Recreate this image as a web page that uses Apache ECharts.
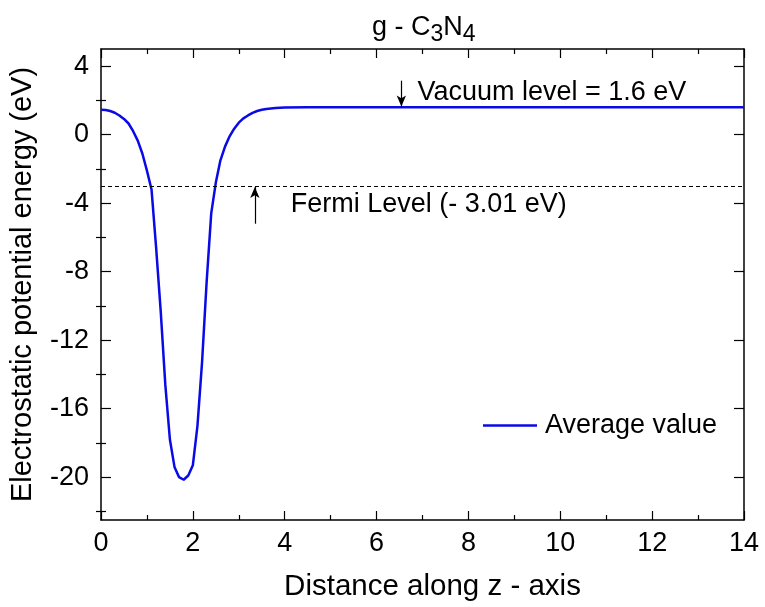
<!DOCTYPE html>
<html>
<head>
<meta charset="utf-8">
<script src="https://cdn.jsdelivr.net/npm/echarts@6/dist/echarts.min.js"></script>
<style>
  html, body { margin: 0; padding: 0; background: #fff; }
  #chart { width: 765px; height: 607px; }
</style>
</head>
<body>
<div id="chart"></div>
<script>
// distance along z (x) and averaged electrostatic potential (eV)
const distance = [0, 0.1, 0.2, 0.3, 0.4, 0.5, 0.6, 0.7, 0.8, 0.9, 1.0, 1.1, 1.2, 1.3, 1.4, 1.5,
  1.6, 1.7, 1.8, 1.9, 2.0, 2.1, 2.2, 2.3, 2.4, 2.5, 2.6, 2.7, 2.8, 2.9, 3.0, 3.1, 3.2, 3.3,
  3.4, 3.5, 3.6, 3.8, 4.0, 4.5, 5, 6, 7, 8, 9, 10, 11, 12, 13, 14];
const potential = [1.46, 1.44, 1.38, 1.28, 1.12, 0.92, 0.65, 0.2, -0.35, -1.1, -2.1, -3.2, -6.6, -10.3, -14.6, -17.8,
  -19.4, -20.0, -20.15, -19.9, -19.3, -17.0, -13.3, -8.6, -4.6, -2.8, -1.5, -0.7, -0.1, 0.35, 0.7, 0.95, 1.12, 1.27,
  1.38, 1.45, 1.5, 1.55, 1.58, 1.6, 1.6, 1.6, 1.6, 1.6, 1.6, 1.6, 1.6, 1.6, 1.6, 1.6];

const vacuumLevel = 1.6;
const fermiLevel = -3.01;

const yMajorTicks = [-20, -16, -12, -8, -4, 0, 4];
const yMinorTicks = [-22, -18, -14, -10, -6, -2, 2];

const font = 'Liberation Sans';
const blue = '#0a0ae6';
const seriesData = distance.map((d, i) => [d, potential[i]]);

const chart = echarts.init(document.getElementById('chart'));

const xBase = {
  type: 'value', min: 0, max: 14, interval: 2,
  axisLine: { onZero: false, lineStyle: { color: '#000', width: 1.5 } },
  axisTick: { inside: true, length: 9, lineStyle: { color: '#000', width: 1.2 } },
  minorTick: { show: true, splitNumber: 2, length: 5, lineStyle: { color: '#000', width: 1.2 } },
  splitLine: { show: false }
};
const yBase = {
  type: 'value', min: -22.5, max: 5,
  axisLine: { show: false },
  splitLine: { show: false },
  axisLabel: { show: false }
};

const option = {
  animation: false,
  backgroundColor: '#fff',
  title: {
    text: '{m|g - C}{s|3}{m|N}{s|4}',
    left: 372, top: 12, padding: 0,
    textStyle: {
      rich: {
        m: { fontFamily: font, fontSize: 27, fontWeight: 'normal', lineHeight: 32, color: '#000' },
        s: { fontFamily: font, fontSize: 23, fontWeight: 'normal', lineHeight: 20, padding: [14, 0, 0, 0], color: '#000' }
      }
    }
  },
  grid: { left: 100, right: 21, top: 49, bottom: 87 },
  legend: {
    left: 483, top: 412, padding: 0,
    icon: 'rect',
    itemWidth: 54, itemHeight: 2.5,
    itemStyle: { color: blue },
    textStyle: { fontFamily: font, fontSize: 27, color: '#000', padding: [0, 0, 0, 3] },
    data: ['Average value']
  },
  xAxis: [
    Object.assign({}, xBase, {
      position: 'bottom',
      name: 'Distance along z - axis',
      nameLocation: 'middle', nameGap: 52,
      nameTextStyle: { fontFamily: font, fontSize: 29.5, color: '#000', padding: [0, 0, 0, 20] },
      axisLabel: { fontFamily: font, fontSize: 27, color: '#000', margin: 10 }
    }),
    Object.assign({}, xBase, { position: 'top', axisLabel: { show: false } })
  ],
  yAxis: [
    Object.assign({}, yBase, {
      position: 'left',
      axisLine: { show: true, onZero: false, lineStyle: { color: '#000', width: 1.5 } },
      name: 'Electrostatic potential energy (eV)',
      nameLocation: 'middle', nameGap: 64,
      nameTextStyle: { fontFamily: font, fontSize: 29, color: '#000' },
      axisLabel: { show: true, customValues: yMajorTicks, fontFamily: font, fontSize: 27, color: '#000', margin: 12 },
      axisTick: { inside: true, length: 10, customValues: yMajorTicks, lineStyle: { color: '#000', width: 1.2 } }
    }),
    Object.assign({}, yBase, {
      position: 'left',
      axisTick: { inside: true, length: 5, customValues: yMinorTicks, lineStyle: { color: '#000', width: 1.2 } }
    }),
    Object.assign({}, yBase, {
      position: 'right',
      axisLine: { show: true, onZero: false, lineStyle: { color: '#000', width: 1.5 } },
      axisTick: { inside: true, length: 10, customValues: yMajorTicks, lineStyle: { color: '#000', width: 1.2 } }
    }),
    Object.assign({}, yBase, {
      position: 'right',
      axisTick: { inside: true, length: 5, customValues: yMinorTicks, lineStyle: { color: '#000', width: 1.2 } }
    })
  ],
  series: [
    {
      name: 'Average value',
      type: 'line',
      xAxisIndex: 0, yAxisIndex: 0,
      data: seriesData,
      symbol: 'none',
      lineStyle: { color: blue, width: 2.5 },
      itemStyle: { color: blue },
      markLine: {
        silent: true,
        symbol: 'none',
        label: { show: false },
        data: [
          {
            yAxis: fermiLevel,
            lineStyle: { color: '#000', width: 1, type: [4, 3] }
          },
          [
            { coord: [6.54, 3.15], symbol: 'none', lineStyle: { color: '#000', width: 1.2, type: 'solid' } },
            { coord: [6.54, vacuumLevel + 0.05], symbol: 'arrow', symbolSize: [7, 11] }
          ],
          [
            { coord: [3.35, -5.2], symbol: 'none', lineStyle: { color: '#000', width: 1.2, type: 'solid' } },
            { coord: [3.35, fermiLevel - 0.05], symbol: 'arrow', symbolSize: [7, 11] }
          ]
        ]
      }
    }
  ]
};

chart.setOption(option);

// annotation texts anchored in data coordinates
const vacPos = chart.convertToPixel({ xAxisIndex: 0, yAxisIndex: 0 }, [6.89, 2.45]);
const fermiPos = chart.convertToPixel({ xAxisIndex: 0, yAxisIndex: 0 }, [4.13, -4.1]);
chart.setOption({
  graphic: [
    {
      type: 'text', x: vacPos[0], y: vacPos[1],
      style: { text: 'Vacuum level = ' + vacuumLevel + ' eV', font: '27px "' + font + '"', fill: '#000', textVerticalAlign: 'middle' }
    },
    {
      type: 'text', x: fermiPos[0], y: fermiPos[1],
      style: { text: 'Fermi Level (- ' + Math.abs(fermiLevel).toFixed(2) + ' eV)', font: '27px "' + font + '"', fill: '#000', textVerticalAlign: 'middle' }
    }
  ]
});

window.addEventListener('resize', () => {
  chart.resize();
});
</script>
</body>
</html>
